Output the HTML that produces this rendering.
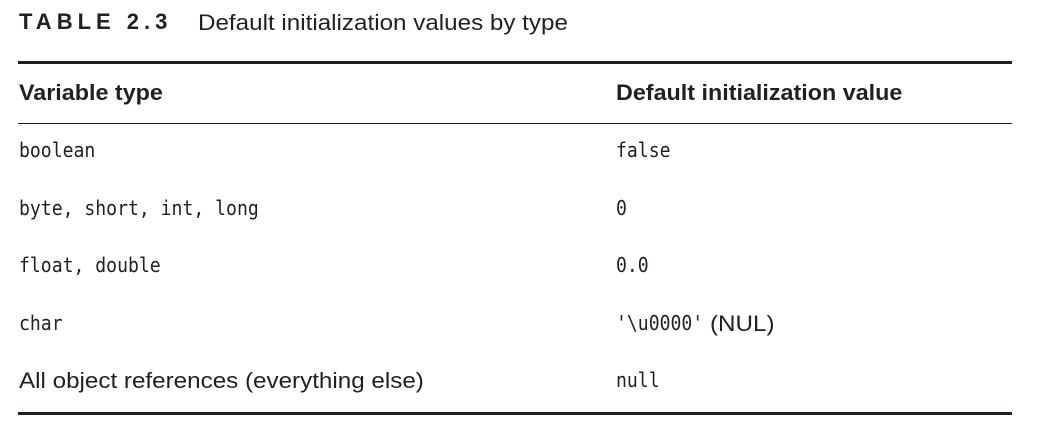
<!DOCTYPE html>
<html><head><meta charset="utf-8"><style>
body{margin:0;width:1060px;height:445px;background:#fff;position:relative;font-family:"Liberation Sans",sans-serif;color:#231f20;overflow:hidden}
.t{position:absolute;white-space:nowrap;line-height:1;transform-origin:0 0}
.m{font-family:"DejaVu Sans Mono","Liberation Mono",monospace;font-size:20px;transform:scaleX(0.905)}
.s{font-size:22px;transform:scaleX(1.1)}
.b{font-weight:bold;font-size:22px;transform:scaleX(1.06)}
.l{position:absolute;left:18px;width:994px;background:#231f20}
</style></head><body>
<div class="t" style="left:19px;top:11px;font-weight:900;font-size:22px;letter-spacing:5px">TABLE 2.3</div>
<div class="t s" style="left:198px;top:12px">Default initialization values by type</div>
<div class="l" style="top:61px;height:3px"></div>
<div class="t b" style="left:19px;top:82px">Variable type</div>
<div class="t b" style="left:616px;top:82px">Default initialization value</div>
<div class="l" style="top:123px;height:1px"></div>
<div class="t m" style="left:19px;top:140px">boolean</div>
<div class="t m" style="left:616px;top:140px">false</div>
<div class="t m" style="left:19px;top:198px">byte, short, int, long</div>
<div class="t m" style="left:616px;top:198px">0</div>
<div class="t m" style="left:19px;top:255px">float, double</div>
<div class="t m" style="left:616px;top:255px">0.0</div>
<div class="t m" style="left:19px;top:313px">char</div>
<div class="t m" style="left:616px;top:313px">'\u0000'</div>
<div class="t s" style="left:710px;top:313px">(NUL)</div>
<div class="t s" style="left:19px;top:370px">All object references (everything else)</div>
<div class="t m" style="left:616px;top:370px">null</div>
<div class="l" style="top:412px;height:3px"></div>
</body></html>
